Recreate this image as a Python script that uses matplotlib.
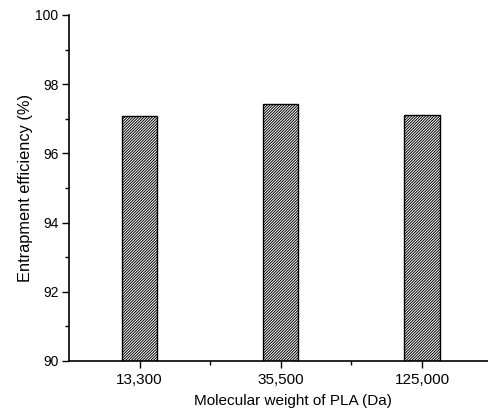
import matplotlib
matplotlib.use('Agg')
import matplotlib.pyplot as plt
from matplotlib.ticker import MultipleLocator, FixedLocator

# data
mw_labels = ['13,300', '35,500', '125,000']
efficiency = [97.08, 97.42, 97.12]

plt.rcParams['font.family'] = ['Liberation Sans', 'DejaVu Sans']
plt.rcParams['hatch.linewidth'] = 0.7

fig = plt.figure(figsize=(4.88, 4.12), dpi=100)
ax = fig.add_axes([0.1414, 0.1238, 0.868, 0.8398])

pos = list(range(1, len(mw_labels) + 1))
ax.bar(pos, efficiency, width=0.25, color='white', edgecolor='black',
       linewidth=1.0, hatch='/' * 12, bottom=0)

ax.set_xlim(0.5, 3.5)
ax.set_ylim(90, 100)
ax.set_xticks(pos)
ax.set_xticklabels(mw_labels, fontsize=11)
ax.xaxis.set_minor_locator(FixedLocator([1.5, 2.5]))
ax.yaxis.set_major_locator(MultipleLocator(2))
ax.yaxis.set_minor_locator(MultipleLocator(1))
ax.tick_params(axis='y', labelsize=10, pad=2.5)
ax.tick_params(which='major', direction='out', length=5, width=1)
ax.tick_params(which='minor', direction='out', length=3, width=1)

ax.spines['top'].set_visible(False)
ax.spines['right'].set_visible(False)
ax.spines['left'].set_linewidth(1.2)
ax.spines['bottom'].set_linewidth(1.2)

ax.set_xlabel('Molecular weight of PLA (Da)', fontsize=11)
ax.xaxis.set_label_coords(0.528, -0.095)
ax.set_ylabel('Entrapment efficiency (%)', fontsize=11.8)
ax.yaxis.set_label_coords(-0.085, 0.5)

fig.savefig('out.png', dpi=100)
